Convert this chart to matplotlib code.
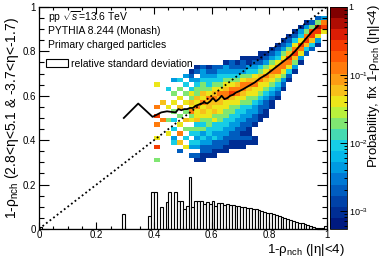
import numpy as np
import matplotlib
matplotlib.use("Agg")
import matplotlib.pyplot as plt
from matplotlib.colors import LinearSegmentedColormap, LogNorm
from matplotlib.ticker import FixedLocator, MultipleLocator, LogLocator, NullFormatter

plt.rcParams['font.family'] = ['Liberation Sans', 'DejaVu Sans']
plt.rcParams['mathtext.fontset'] = 'custom'
plt.rcParams['mathtext.rm'] = 'Liberation Sans'
plt.rcParams['mathtext.it'] = 'Liberation Sans:italic'

# 2D probability map in 0.02 x 0.02 cells.
# one string per column (x from 0.38), characters go from y=0.30 upwards
map_x0, map_y0, cell = 0.38, 0.30, 0.02
map_cols = [
    "",
    "5..9.6..8.9.8....6",
    ".........8...7",
    "......6..5..6...4",
    "....43.4.4.5.6.5..3",
    "..2.7.8.6.5.7.6.5.4",
    "...6.4.5.7.5.6.5.4.3",
    ".2.34.45.65867564.321",
    "12.3434547668675543.21",
    "1122343545676867554332",
    ".122334455667786544321",
    ".112243446576787654322",
    "..12233445566778654432",
    "..112233445566887654331",
    "...11223344556798654322",
    "...11222334456688754321",
    "...112122334456788653221",
    "....12112233455678754311",
    "....11..1223345668764321",
    ".........1122345668754211",
    "..........112234567865321",
    "............11234567865321",
    "..............1234568864321",
    "................123568865321",
    "..................12468975321",
    "....................1357986421",
    "......................136896431",
    "........................24798531",
    ".........................2479952",
    "..........................1369a52",
    ".............................6983",
]
level_chars = "123456789a"
level_prob = [1.0e-3, 2.2e-3, 4.5e-3, 9e-3, 1.8e-2, 3.5e-2, 7e-2, 0.14, 0.28, 0.6]

# mean of the distribution per x bin
mean_x = [0.295, 0.345, 0.395, 0.425, 0.445, 0.475, 0.485, 0.495, 0.505, 0.515,
          0.525, 0.535, 0.545, 0.555, 0.565, 0.575, 0.585, 0.595, 0.605, 0.615,
          0.625, 0.635, 0.645, 0.655, 0.665, 0.675, 0.685, 0.695, 0.71, 0.73,
          0.75, 0.77, 0.79, 0.81, 0.83, 0.85, 0.87, 0.89, 0.91, 0.93, 0.95, 0.97]
mean_y = [0.50, 0.565, 0.505, 0.525, 0.53, 0.525, 0.54, 0.535, 0.54, 0.54,
          0.545, 0.545, 0.555, 0.56, 0.565, 0.57, 0.565, 0.575, 0.59, 0.575,
          0.585, 0.60, 0.585, 0.59, 0.60, 0.605, 0.615, 0.62, 0.63, 0.645,
          0.66, 0.68, 0.695, 0.715, 0.735, 0.755, 0.775, 0.80, 0.83, 0.86, 0.89, 0.915]

# relative standard deviation, 100 bins of 0.01
rsd = [0.008] + [0.0] * 28 + [0.066] + [0.0] * 8 + [
    0.06, 0.165, 0.165, 0.0, 0.10, 0.0, 0.12, 0.165, 0.0, 0.165,
    0.127, 0.127, 0.09, 0.105, 0.232, 0.10, 0.128, 0.125, 0.128, 0.112,
    0.122, 0.112, 0.125, 0.105, 0.115, 0.115, 0.108, 0.112, 0.108, 0.106,
    0.104, 0.102, 0.100, 0.098, 0.096, 0.094, 0.091, 0.088, 0.085, 0.082,
    0.078, 0.074, 0.070, 0.066, 0.062, 0.058, 0.054, 0.049, 0.045, 0.041,
    0.037, 0.033, 0.029, 0.025, 0.021, 0.017, 0.014, 0.011, 0.004, 0.004,
    0.004, 0.012]

ncol, nrow = len(map_cols), 33
Z = np.full((nrow, ncol), np.nan)
for j, col in enumerate(map_cols):
    for k, ch in enumerate(col.ljust(nrow, '.')):
        if ch in level_chars:
            Z[k, j] = level_prob[level_chars.index(ch)]
xe = map_x0 + cell * np.arange(ncol + 1)
ye = map_y0 + cell * np.arange(nrow + 1)

cmap = LinearSegmentedColormap.from_list("rootrainbow", [
    (0.00, (0.00, 0.10, 0.50)),
    (0.10, (0.00, 0.25, 0.65)),
    (0.20, (0.00, 0.45, 0.82)),
    (0.30, (0.00, 0.70, 0.92)),
    (0.38, (0.10, 0.82, 0.90)),
    (0.45, (0.40, 0.88, 0.55)),
    (0.52, (0.70, 0.95, 0.25)),
    (0.58, (0.93, 0.90, 0.10)),
    (0.65, (0.98, 0.70, 0.10)),
    (0.73, (1.00, 0.50, 0.05)),
    (0.82, (1.00, 0.28, 0.00)),
    (0.90, (0.85, 0.10, 0.02)),
    (1.00, (0.50, 0.00, 0.00)),
], N=20)
norm = LogNorm(vmin=5.4e-4, vmax=1.0)

fig = plt.figure(figsize=(3.82, 2.59), dpi=100)
ax = fig.add_axes([0.102, 0.116, 0.753, 0.857])
cax = fig.add_axes([0.864, 0.116, 0.045, 0.857])

mesh = ax.pcolormesh(xe, ye, np.ma.masked_invalid(Z), cmap=cmap, norm=norm)
ax.plot([0, 1], [0, 1], ls=(0, (1, 1.5)), color='black', lw=1.3)
ax.bar(np.arange(100) * 0.01, rsd, width=0.01, align='edge', facecolor='white',
       edgecolor='black', linewidth=0.8, label='relative standard deviation')
ax.plot(mean_x, mean_y, color='black', lw=1.3)

ax.set_xlim(0, 1)
ax.set_ylim(0, 1)
ticks = [0, 0.2, 0.4, 0.6, 0.8, 1]
labels = ['0', '0.2', '0.4', '0.6', '0.8', '1']
ax.xaxis.set_major_locator(FixedLocator(ticks))
ax.yaxis.set_major_locator(FixedLocator(ticks))
ax.set_xticklabels(labels)
ax.set_yticklabels(labels)
ax.xaxis.set_minor_locator(MultipleLocator(0.05))
ax.yaxis.set_minor_locator(MultipleLocator(0.05))
ax.tick_params(which='both', direction='in', top=True, right=True, labelsize=7, width=0.8)
ax.tick_params(axis='x', which='major', length=5, pad=1)
ax.tick_params(axis='x', which='minor', length=2.5)
ax.tick_params(axis='y', which='major', length=7, pad=2)
ax.tick_params(axis='y', which='minor', length=3.5)
for s in ax.spines.values():
    s.set_linewidth(0.9)

ax.text(0.031, 0.955, r'pp $\sqrt{s}$=13.6 TeV', transform=ax.transAxes, fontsize=7.5, va='center')
ax.text(0.031, 0.892, 'PYTHIA 8.244 (Monash)', transform=ax.transAxes, fontsize=7.5, va='center')
ax.text(0.031, 0.829, 'Primary charged particles', transform=ax.transAxes, fontsize=7.5, va='center')
ax.legend(loc='upper left', bbox_to_anchor=(0.0, 0.80), frameon=False, fontsize=7.5,
          handlelength=2.1, handleheight=0.9, handletextpad=0.3, borderaxespad=0.3)

cb = fig.colorbar(mesh, cax=cax)
cb.outline.set_linewidth(0.6)
cax.yaxis.set_major_locator(FixedLocator([1e-3, 1e-2, 1e-1, 1]))
cax.set_yticklabels([r'$10^{-3}$', r'$10^{-2}$', r'$10^{-1}$', '1'])
cax.yaxis.set_minor_locator(LogLocator(base=10, subs=np.arange(2, 10)))
cax.yaxis.set_minor_formatter(NullFormatter())
cax.tick_params(which='both', direction='in', labelsize=6.5, width=0.7, pad=1)
cax.tick_params(which='major', length=5)
cax.tick_params(which='minor', length=2.5)

fig.text(12 / 382, 1 - 17 / 259, r'1-ρ$_{\rm nch}$ (2.8<η<5.1 & -3.7<η<-1.7)',
         rotation=90, ha='center', va='top', fontsize=10)
fig.text(345 / 382, 1 - 253 / 259, r'1-ρ$_{\rm nch}$ (|η|<4)', ha='right', va='baseline', fontsize=9.5)
fig.text(374 / 382, 1 - 4 / 259, r'Probability, fix 1-ρ$_{\rm nch}$ (|η|<4)',
         rotation=90, ha='center', va='top', fontsize=9.5)

fig.savefig('out.png', dpi=100)
